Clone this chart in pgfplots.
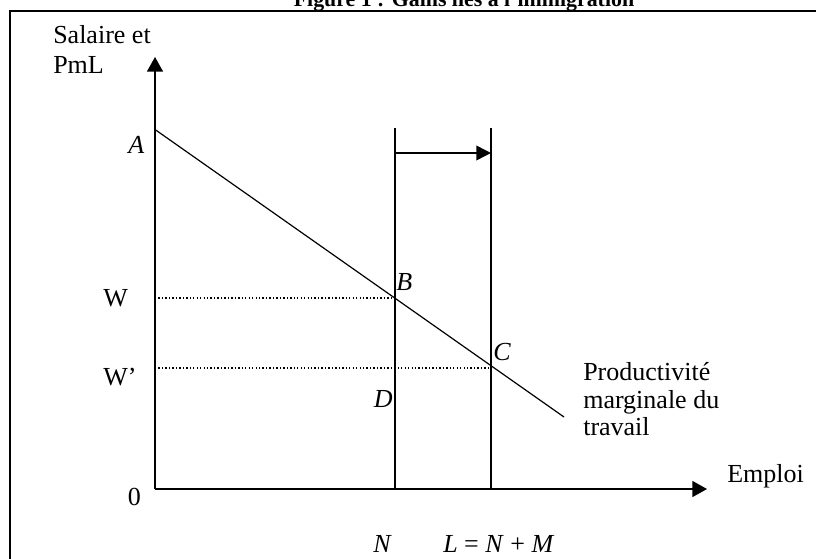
\documentclass[border=0pt]{standalone}
\usepackage{pgfplots}
\pgfplotsset{compat=1.18}
\usepackage{fontspec}
\setmainfont{Liberation Serif}
\usetikzlibrary{arrows.meta}
\tikzset{lab/.style={font=\fontsize{19.5}{22}\selectfont, inner sep=0pt, text=black}}

\begin{document}
\begin{tikzpicture}
\begin{axis}[
  scale only axis,
  width=414pt, height=324pt,
  xmin=0, xmax=552, ymin=0, ymax=432,
  axis lines=left,
  x axis line style={line width=1.2pt, -{Triangle[length=11pt,width=12pt]}},
  y axis line style={line width=1.2pt, -{Triangle[length=11pt,width=12pt]}},
  xtick=\empty, ytick=\empty,
  clip=false,
]
% marginal productivity of labour
\addplot[black, line width=0.9pt] coordinates {(0,359.5) (409,72)};
% employment levels N and L
\addplot[black, line width=1.1pt] coordinates {(240,0) (240,361)};
\addplot[black, line width=1.1pt] coordinates {(336,0) (336,361)};
% wages W and W'
\addplot[black, line width=0.8pt, dash pattern=on 1pt off 1.6pt] coordinates {(0,191) (240,191)};
\addplot[black, line width=0.8pt, dash pattern=on 1pt off 1.6pt] coordinates {(0,121) (336,121)};
% shift arrow
\addplot[black, line width=1.1pt, -{Triangle[length=11pt,width=11pt]}] coordinates {(240,336) (336,336)};

% frame
\draw[line width=1.5pt] (axis cs:-144.5,-300) |- (axis cs:900,478);

% labels
\node[lab, font=\fontsize{16.4}{18}\selectfont\bfseries, anchor=base] at (axis cs:309,483) {Figure 1 : Gains liés à l’immigration};
\node[lab, anchor=base west] at (axis cs:-102,445.7) {Salaire et};
\node[lab, anchor=base west] at (axis cs:-102,415.7) {PmL};
\node[lab, anchor=base west] at (axis cs:-27,336) {\textit{A}};
\node[lab, anchor=base west] at (axis cs:-52,182.3) {W};
\node[lab, anchor=base west] at (axis cs:-52,104) {W’};
\node[lab, anchor=base] at (axis cs:-20.5,-16) {0};
\node[lab, anchor=base west] at (axis cs:241,199) {\textit{B}};
\node[lab, anchor=base east] at (axis cs:238,82) {\textit{D}};
\node[lab, anchor=base west] at (axis cs:338,129) {\textit{C}};
\node[lab, anchor=base west] at (axis cs:428,109) {Productivité};
\node[lab, anchor=base west] at (axis cs:428,81) {marginale du};
\node[lab, anchor=base west] at (axis cs:428,54) {travail};
\node[lab, anchor=base west] at (axis cs:572,7) {Emploi};
\node[lab, anchor=base west] at (axis cs:218,-63) {\textit{N}};
\node[lab, anchor=base west] at (axis cs:288,-63) {\textit{L} = \textit{N} + \textit{M}};

\coordinate (bbsw) at (axis cs:-155,-69);
\coordinate (bbne) at (axis cs:661,489);
\end{axis}
\pgfresetboundingbox
\useasboundingbox (bbsw) rectangle (bbne);
\end{tikzpicture}
\end{document}
